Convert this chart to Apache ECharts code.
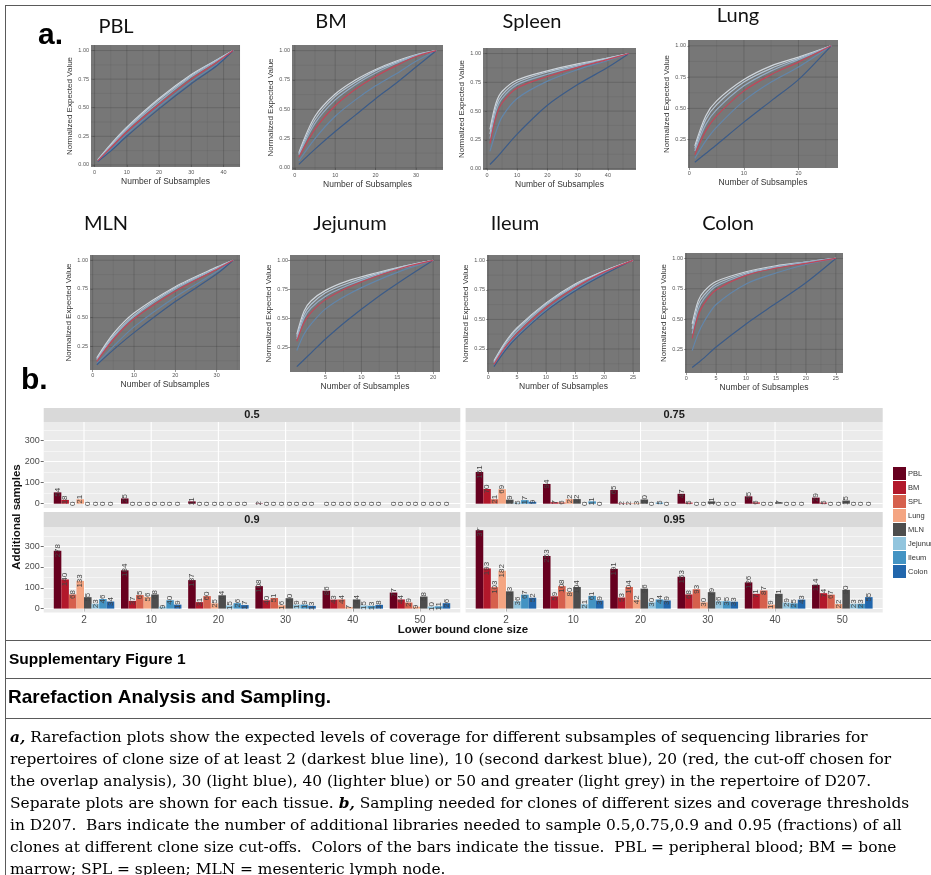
<!DOCTYPE html>
<html><head><meta charset="utf-8">
<script src="https://cdn.jsdelivr.net/npm/echarts@6/dist/echarts.min.js"></script>
<style>html,body{margin:0;padding:0;background:#fff}#c{width:931px;height:875px}</style>
</head><body><div id="c"></div>
<script>
// ---------------- DATA ----------------
const tissues = ['PBL','BM','SPL','Lung','MLN','Jejunum','Ileum','Colon'];
const cloneSizes = ['2','10','20','30','40','50'];
const thresholds = ['0.5','0.75','0.9','0.95'];
const barYTicks = [0,100,200,300];
// rows = tissue, columns = clone size
const add050 = [[54,25,11,2,0,0],[18,0,0,0,0,0],[0,0,0,0,0,0],[21,0,0,0,0,0],[0,0,0,0,0,0],[0,0,0,0,0,0],[0,0,0,0,0,0],[0,0,0,0,0,0]];
const add075 = [[151,94,65,47,35,29],[70,7,2,5,6,5],[21,6,2,0,0,0],[69,22,3,0,0,0],[19,22,20,11,7,15],[5,0,0,0,0,0],[17,11,5,0,0,0],[9,0,0,0,0,0]];
const add090 = [[278,184,137,108,86,77],[140,37,31,40,43,44],[68,65,60,51,44,29],[133,56,25,16,7,9],[55,68,64,50,44,58],[23,9,15,19,15,10],[46,40,26,19,13,11],[34,19,17,13,18,26]];
const add095 = [[377,253,191,153,126,114],[193,59,53,68,71,74],[103,108,104,93,87,67],[182,80,42,30,19,22],[83,104,96,79,71,90],[36,21,30,36,29,23],[67,61,44,35,25,23],[52,39,39,33,43,55]];

// Rarefaction curves: clone size cut-offs 2,10,20,30,40,50
const rareCuts = ['2','10','20','30','40','50'];
const rareYTicks = [0,0.25,0.5,0.75,1];
const rareXTicks10 = [0,10,20,30,40,50];
const rareXTicks5 = [0,5,10,15,20,25];
const pblX = [1,5,10,20,30,38,43];
const pblY = [[0.03,0.12,0.25,0.49,0.71,0.87,1.0],[0.03,0.13,0.27,0.51,0.73,0.88,1.0],[0.035,0.15,0.29,0.53,0.75,0.90,1.0],[0.04,0.16,0.31,0.55,0.77,0.91,1.0],[0.04,0.17,0.32,0.57,0.78,0.92,1.0],[0.045,0.18,0.33,0.58,0.79,0.92,1.0]];
const bmX = [1,5,10,15,20,25,30,35];
const bmY = [[0.03,0.16,0.31,0.45,0.59,0.72,0.86,1.0],[0.06,0.25,0.44,0.58,0.70,0.80,0.91,1.0],[0.09,0.33,0.53,0.67,0.78,0.87,0.95,1.0],[0.11,0.38,0.58,0.71,0.81,0.89,0.96,1.0],[0.12,0.41,0.61,0.73,0.83,0.90,0.96,1.0],[0.13,0.44,0.63,0.75,0.84,0.91,0.965,1.0]];
const splX = [1,3,5,10,20,30,40,47];
const splY = [[0.036,0.09,0.15,0.30,0.55,0.73,0.88,1.0],[0.15,0.32,0.45,0.61,0.76,0.86,0.94,1.0],[0.22,0.45,0.57,0.70,0.80,0.88,0.95,1.0],[0.26,0.50,0.61,0.73,0.82,0.89,0.95,1.0],[0.30,0.54,0.64,0.75,0.84,0.90,0.96,1.0],[0.34,0.57,0.67,0.77,0.85,0.91,0.96,1.0]];
const lungX = [1,3,5,10,15,20,26];
const lungY = [[0.07,0.14,0.21,0.39,0.56,0.73,1.0],[0.10,0.24,0.35,0.56,0.71,0.83,1.0],[0.13,0.32,0.44,0.64,0.77,0.87,1.0],[0.16,0.37,0.49,0.68,0.80,0.89,1.0],[0.18,0.41,0.53,0.71,0.82,0.90,1.0],[0.20,0.44,0.56,0.73,0.84,0.91,1.0]];
const mlnX = [1,5,10,20,30,34];
const mlnY = [[0.09,0.22,0.37,0.64,0.88,1.0],[0.10,0.25,0.42,0.68,0.90,1.0],[0.12,0.31,0.49,0.73,0.92,1.0],[0.13,0.33,0.51,0.75,0.93,1.0],[0.14,0.34,0.52,0.76,0.93,1.0],[0.15,0.36,0.54,0.77,0.94,1.0]];
const jejX = [1,2,3,5,8,12,16,20];
const jejY = [[0.08,0.14,0.20,0.32,0.48,0.67,0.84,1.0],[0.22,0.36,0.45,0.58,0.70,0.82,0.92,1.0],[0.30,0.46,0.55,0.66,0.76,0.86,0.94,1.0],[0.32,0.50,0.59,0.69,0.78,0.87,0.94,1.0],[0.34,0.53,0.62,0.72,0.80,0.88,0.95,1.0],[0.36,0.56,0.65,0.74,0.82,0.89,0.95,1.0]];
const ileX = [1,3,5,10,15,20,25];
const ileY = [[0.10,0.24,0.35,0.57,0.74,0.88,1.0],[0.11,0.25,0.36,0.58,0.75,0.89,1.0],[0.12,0.27,0.38,0.60,0.77,0.90,1.0],[0.13,0.28,0.40,0.62,0.78,0.90,1.0],[0.14,0.30,0.42,0.63,0.79,0.91,1.0],[0.15,0.31,0.43,0.64,0.80,0.91,1.0]];
const colX = [1,2,3,5,10,15,20,25];
const colY = [[0.10,0.14,0.18,0.27,0.46,0.63,0.80,1.0],[0.24,0.38,0.48,0.62,0.79,0.88,0.95,1.0],[0.34,0.53,0.63,0.74,0.86,0.92,0.96,1.0],[0.38,0.58,0.67,0.77,0.87,0.93,0.97,1.0],[0.42,0.62,0.70,0.79,0.88,0.93,0.97,1.0],[0.46,0.65,0.73,0.81,0.89,0.94,0.97,1.0]];

// ---------------- STYLE / LAYOUT ----------------
const tissueColors = ['#67001f','#b2182b','#d6604d','#f4a582','#4d4d4d','#92c5de','#4393c3','#2166ac'];
const rareColors = ['#3b5b88','#6286ab','#c1475a','#93abc4','#b3c3d2','#d0d6dc'];
const rareDrawOrder = [5,4,3,1,0,2];
const SANS = 'Liberation Sans';

const rarePanels = [
  {title:'PBL', tx:116, ty:27, box:[91,45,240,167], xs:pblX, ys:pblY, xt:rareXTicks10},
  {title:'BM', tx:331, ty:22, box:[292,45,443,170], xs:bmX, ys:bmY, xt:rareXTicks10},
  {title:'Spleen', tx:532, ty:22, box:[483,48,636,170], xs:splX, ys:splY, xt:rareXTicks10},
  {title:'Lung', tx:738, ty:16, box:[688,40,838,168], xs:lungX, ys:lungY, xt:rareXTicks10},
  {title:'MLN', tx:106, ty:224, box:[90,255,240,370], xs:mlnX, ys:mlnY, xt:rareXTicks10},
  {title:'Jejunum', tx:350, ty:224, box:[290,255,440,372], xs:jejX, ys:jejY, xt:rareXTicks5},
  {title:'Ileum', tx:515, ty:224, box:[487,255,640,372], xs:ileX, ys:ileY, xt:rareXTicks5},
  {title:'Colon', tx:728, ty:224, box:[685,253,843,373], xs:colX, ys:colY, xt:rareXTicks5}
];

const barPanels = [
  {data:add050, label:thresholds[0], px0:43.7, px1:460.3, top:422, bottom:508, zero:503.7, scale:0.21, stripTop:408, leftAxis:true, bottomAxis:false},
  {data:add075, label:thresholds[1], px0:465.6, px1:882.7, top:422, bottom:508, zero:503.7, scale:0.21, stripTop:408, leftAxis:false, bottomAxis:false},
  {data:add090, label:thresholds[2], px0:43.7, px1:460.3, top:527, bottom:612.5, zero:608.6, scale:0.208, stripTop:512, leftAxis:true, bottomAxis:true},
  {data:add095, label:thresholds[3], px0:465.6, px1:882.7, top:527, bottom:612.5, zero:608.6, scale:0.208, stripTop:512, leftAxis:false, bottomAxis:true}
];

const grids = [], xAxes = [], yAxes = [], series = [], G = [];

function gText(x, y, t, font, fill, align, vAlign, extra) {
  G.push(Object.assign({type:'text', x:x, y:y, silent:true, z:20,
    style:{text:t, font:font, fill:fill || '#000', align:align||'left', textAlign:align||'left',
      verticalAlign:vAlign||'middle', textVerticalAlign:vAlign||'middle'}}, extra || {}));
}
function gLine(x1,y1,x2,y2,c,w){ G.push({type:'line', silent:true, z:20, shape:{x1:x1,y1:y1,x2:x2,y2:y2}, style:{stroke:c, lineWidth:w}}); }

// ---------- rarefaction plots ----------
rarePanels.forEach(function(p, k){
  const xs = p.xs, x0 = xs[0], x1 = xs[xs.length-1], dx = (x1-x0)*0.05;
  let ymin = Infinity; p.ys.forEach(function(c){ c.forEach(function(v){ ymin = Math.min(ymin, v); }); });
  const dy = (1-ymin)*0.05;
  const ext = {xmin:x0-dx, xmax:x1+dx, ymin:ymin-dy, ymax:1+dy};
  const xt = p.xt.filter(function(v){ return v >= ext.xmin && v <= ext.xmax; });
  const yt = rareYTicks.filter(function(v){ return v >= ext.ymin && v <= ext.ymax; });
  const b = p.box;
  grids.push({left:b[0], top:b[1], width:b[2]-b[0], height:b[3]-b[1], show:true, backgroundColor:'#777777', borderWidth:0});
  xAxes.push({type:'value', gridIndex:k, min:ext.xmin, max:ext.xmax,
    axisLine:{show:false}, splitLine:{show:false},
    axisTick:{show:true, length:2, customValues:xt, lineStyle:{color:'#555', width:0.6}},
    axisLabel:{customValues:xt, fontSize:5.5, color:'#555', margin:2, fontFamily:SANS},
    name:'Number of Subsamples', nameLocation:'middle', nameGap:10,
    nameTextStyle:{fontSize:8.5, color:'#333', fontFamily:SANS}});
  yAxes.push({type:'value', gridIndex:k, min:ext.ymin, max:ext.ymax,
    axisLine:{show:false}, splitLine:{show:false},
    axisTick:{show:true, length:2, customValues:yt, lineStyle:{color:'#555', width:0.6}},
    axisLabel:{customValues:yt, fontSize:5.5, color:'#555', margin:2, fontFamily:SANS, formatter:function(v){ return v.toFixed(2); }},
    name:'Normalized Expected Value', nameLocation:'middle', nameGap:17,
    nameTextStyle:{fontSize:8, color:'#333', fontFamily:SANS}});
  // grid lines (major + minor)
  const gl = [];
  const ymid = (ext.ymin+ext.ymax)/2, xmid = (ext.xmin+ext.xmax)/2;
  const xs5 = p.xt[1]-p.xt[0];
  p.xt.forEach(function(v){
    if (v >= ext.xmin && v <= ext.xmax) gl.push([v, ymid, 0, 1]);
    const m = v + xs5/2; if (m >= ext.xmin && m <= ext.xmax) gl.push([m, ymid, 0, 0]);
  });
  rareYTicks.forEach(function(v){
    if (v >= ext.ymin && v <= ext.ymax) gl.push([xmid, v, 1, 1]);
    const m = v + 0.125; if (m >= ext.ymin && m <= ext.ymax) gl.push([xmid, m, 1, 0]);
  });
  series.push({type:'custom', xAxisIndex:k, yAxisIndex:k, silent:true, z:1, data:gl,
    renderItem:function(params, api){
      const pt = api.coord([api.value(0), api.value(1)]); const cs = params.coordSys;
      const major = api.value(3) === 1;
      const st = {stroke: major ? 'rgba(50,50,50,0.35)' : 'rgba(50,50,50,0.18)', lineWidth: major ? 0.7 : 0.5};
      if (api.value(2) === 0) return {type:'line', shape:{x1:pt[0], y1:cs.y, x2:pt[0], y2:cs.y+cs.height}, style:st};
      return {type:'line', shape:{x1:cs.x, y1:pt[1], x2:cs.x+cs.width, y2:pt[1]}, style:st};
    }});
  rareDrawOrder.forEach(function(ci){
    series.push({type:'line', name:'clone size ' + rareCuts[ci], xAxisIndex:k, yAxisIndex:k, smooth:0.3,
      showSymbol:false, symbol:'none', silent:true, z:3,
      lineStyle:{color:rareColors[ci], width:1.2},
      data: xs.map(function(x, i){ return [x, p.ys[ci][i]]; })});
  });
  gText(p.tx, p.ty, p.title, '20px Lato', '#111', 'center', 'middle');
});

// ---------- bar panels ----------
barPanels.forEach(function(p, j){
  const k = rarePanels.length + j;
  const h = 400*p.scale;
  grids.push({left:p.px0, top:p.zero-h, width:p.px1-p.px0, height:h});
  xAxes.push({type:'value', gridIndex:k, min:0.4, max:6.6, offset:p.bottom-p.zero,
    axisLine:{show:false}, splitLine:{show:false},
    axisTick:{show:p.bottomAxis, length:3, customValues:[1,2,3,4,5,6], lineStyle:{color:'#444', width:0.8}},
    axisLabel:{show:p.bottomAxis, customValues:[1,2,3,4,5,6], fontSize:10, color:'#4d4d4d', margin:3, fontFamily:SANS,
      formatter:function(v){ return cloneSizes[Math.round(v)-1]; }}});
  yAxes.push({type:'value', gridIndex:k, min:0, max:400, interval:100,
    axisLine:{show:false},
    axisTick:{show:p.leftAxis, length:3, customValues:barYTicks, lineStyle:{color:'#444', width:0.8}},
    axisLabel:{show:p.leftAxis, customValues:barYTicks, fontSize:9, color:'#4d4d4d', margin:4, fontFamily:SANS},
    splitLine:{show:true, lineStyle:{color:'#ffffff', width:1.1}},
    minorTick:{show:false, splitNumber:2},
    minorSplitLine:{show:true, lineStyle:{color:'#ffffff', width:0.5}}});
  // vertical grid lines at category centres
  const extra = p.bottom - p.zero;
  series.push({type:'custom', xAxisIndex:k, yAxisIndex:k, silent:true, z:1,
    data:[1,2,3,4,5,6].map(function(v){ return [v, 200]; }),
    renderItem:function(params, api){
      const pt = api.coord([api.value(0), api.value(1)]); const cs = params.coordSys;
      return {type:'line', shape:{x1:pt[0], y1:cs.y, x2:pt[0], y2:cs.y+cs.height+extra}, style:{stroke:'#ffffff', lineWidth:1.1}};
    }});
  tissues.forEach(function(t, ti){
    series.push({type:'bar', name:t, xAxisIndex:k, yAxisIndex:k, barGap:'0%', barCategoryGap:'10%', z:2,
      itemStyle:{color:tissueColors[ti]}, silent:true,
      label:{show:true, position:['50%', 0], rotate:90, align:'center', verticalAlign:'middle',
        fontSize:8, color:'#444', fontFamily:SANS, formatter:function(q){ return q.value[1]; }},
      data:p.data[ti].map(function(v, ci){ return [ci+1, v]; })});
  });
  // panel background + strip
  G.push({type:'rect', silent:true, z:-5, shape:{x:p.px0, y:p.top, width:p.px1-p.px0, height:p.bottom-p.top}, style:{fill:'#ebebeb'}});
  G.push({type:'rect', silent:true, z:15, shape:{x:p.px0, y:p.stripTop, width:p.px1-p.px0, height:p.top-p.stripTop}, style:{fill:'#d9d9d9'}});
  gText((p.px0+p.px1)/2, (p.stripTop+p.top)/2, p.label, 'bold 11px ' + SANS, '#1a1a1a', 'center', 'middle');
});

// ---------- figure frame & texts ----------
gLine(5.5, 5, 5.5, 875, '#5a5a5a', 1);
gLine(5, 5.5, 931, 5.5, '#5a5a5a', 1);
gLine(5, 640.5, 931, 640.5, '#5a5a5a', 1);
gLine(5, 678.5, 931, 678.5, '#5a5a5a', 1);
gLine(5, 718.5, 931, 718.5, '#5a5a5a', 1);
gText(38, 36, 'a.', 'bold 30px ' + SANS, '#000', 'left', 'middle');
gText(21, 381, 'b.', 'bold 30px ' + SANS, '#000', 'left', 'middle');
gText(17, 517, 'Additional samples', 'bold 11.5px ' + SANS, '#111', 'center', 'middle', {rotation:Math.PI/2});
gText(463, 630, 'Lower bound clone size', 'bold 11.5px ' + SANS, '#111', 'center', 'middle');
gText(9, 660, 'Supplementary Figure 1', 'bold 15.5px ' + SANS, '#000', 'left', 'middle');
gText(8, 698, 'Rarefaction Analysis and Sampling.', 'bold 19px ' + SANS, '#000', 'left', 'middle');

const captionLines = [
  '{bi|a,} Rarefaction plots show the expected levels of coverage for different subsamples of sequencing libraries for',
  'repertoires of clone size of at least 2 (darkest blue line), 10 (second darkest blue), 20 (red, the cut-off chosen for',
  'the overlap analysis), 30 (light blue), 40 (lighter blue) or 50 and greater (light grey) in the repertoire of D207.',
  'Separate plots are shown for each tissue. {bi|b,} Sampling needed for clones of different sizes and coverage thresholds',
  'in D207.  Bars indicate the number of additional libraries needed to sample 0.5,0.75,0.9 and 0.95 (fractions) of all',
  'clones at different clone size cut-offs.  Colors of the bars indicate the tissue.  PBL = peripheral blood; BM = bone',
  'marrow; SPL = spleen; MLN = mesenteric lymph node.'
];
const SERIF = "15.4px 'DejaVu Serif'";
captionLines.forEach(function(t, i){
  G.push({type:'text', x:10, y:738 + i*22, silent:true, z:20,
    style:{text:t, font:SERIF, fill:'#000', align:'left', textAlign:'left', verticalAlign:'middle', textVerticalAlign:'middle',
      rich:{bi:{font:"italic bold 15.4px 'DejaVu Serif'", fill:'#000'}}}});
});

const chart = echarts.init(document.getElementById('c'), null, {renderer:'canvas'});
chart.setOption({
  animation:false,
  backgroundColor:'#ffffff',
  textStyle:{fontFamily:SANS},
  legend:{data:tissues, orient:'vertical', left:893, top:467, itemWidth:13, itemHeight:13, itemGap:1, icon:'rect',
    selectedMode:false, padding:0, textStyle:{fontSize:7.5, color:'#333', fontFamily:SANS, padding:[0,0,0,-3]}},
  grid:grids, xAxis:xAxes, yAxis:yAxes, series:series, graphic:G
});
</script>
</body></html>
